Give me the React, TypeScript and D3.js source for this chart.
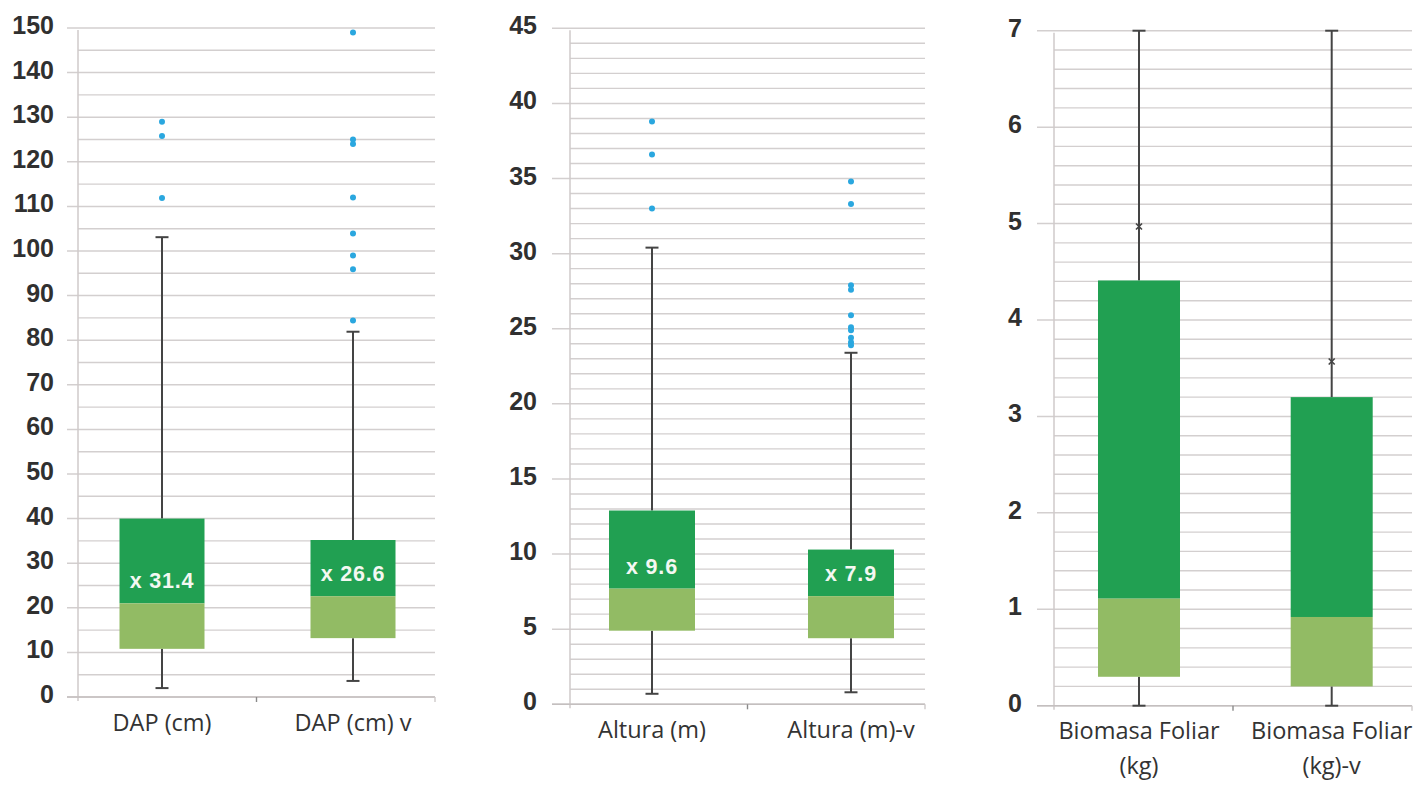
import React from "react";
import * as d3 from "d3";

// ---------- DATA ----------
const dapCategories = ["DAP (cm)", "DAP (cm) v"];
const dapQ1 = [10.8, 13.2];
const dapMedian = [21.0, 22.6];
const dapQ3 = [40.0, 35.2];
const dapWhiskerLow = [2.0, 3.6];
const dapWhiskerHigh = [103.1, 81.9];
const dapMean = [31.4, 26.6];
const dapOutliers = [
  [129.0, 125.8, 111.9],
  [149.0, 125.0, 124.0, 112.0, 103.9, 99.0, 95.9, 84.4],
];
const dapDomain = [0, 150];
const dapMajorStep = 10;
const dapMinorStep = 5;

const alturaCategories = ["Altura (m)", "Altura (m)-v"];
const alturaQ1 = [4.9, 4.4];
const alturaMedian = [7.7, 7.2];
const alturaQ3 = [12.9, 10.3];
const alturaWhiskerLow = [0.7, 0.8];
const alturaWhiskerHigh = [30.4, 23.4];
const alturaMean = [9.6, 7.9];
const alturaOutliers = [
  [38.8, 36.6, 33.0],
  [34.8, 33.3, 27.9, 27.6, 25.9, 25.1, 24.9, 24.4, 24.1, 23.9],
];
const alturaDomain = [0, 45];
const alturaMajorStep = 5;
const alturaMinorStep = 1;

const biomasaCategories = [
  ["Biomasa Foliar", "(kg)"],
  ["Biomasa Foliar", "(kg)-v"],
];
const biomasaQ1 = [0.3, 0.2];
const biomasaMedian = [1.11, 0.92];
const biomasaQ3 = [4.41, 3.2];
const biomasaWhiskerLow = [0, 0];
const biomasaWhiskerHigh = [7, 7];
const biomasaMean = [4.97, 3.57];
const biomasaOutliers: number[][] = [[], []];
const biomasaDomain = [0, 7];
const biomasaMajorStep = 1;
const biomasaMinorStep = 0.2;

// ---------- STYLE / LAYOUT ----------
const DARK_GREEN = "#21a052";
const LIGHT_GREEN = "#92bb64";
const DOT_BLUE = "#2aa7df";
const GRID = "#d3cfcf";
const WHISKER = "#444444";

type PanelProps = {
  categories: string[][];
  q1: number[];
  median: number[];
  q3: number[];
  low: number[];
  high: number[];
  mean: number[];
  outliers: number[][];
  domain: number[];
  majorStep: number;
  minorStep: number;
  meanAsLabel: boolean;
  layout: {
    axisX: number;
    left: number;
    right: number;
    top: number;
    bottom: number;
    centers: number[];
    boxW: number;
    labelX: number;
  };
};

function Panel(p: PanelProps) {
  const L = p.layout;
  const keys = p.categories.map((c) => c.join(" "));
  const y = d3.scaleLinear().domain(p.domain).range([L.bottom, L.top]);
  const x = d3.scalePoint<string>().domain(keys).range(L.centers);
  const sep = d3.scaleBand<string>().domain(keys).range([L.axisX, L.right]);
  const majors = d3.range(p.domain[0], p.domain[1] + 1e-9, p.majorStep);
  const minors = d3
    .range(p.domain[0], p.domain[1] + 1e-9, p.minorStep)
    .filter((v) => Math.abs(v / p.majorStep - Math.round(v / p.majorStep)) > 1e-6);
  const fmt = d3.format("d");
  const capW = 13;

  return (
    <g>
      {minors.map((v, i) => (
        <line key={"mi" + i} x1={L.axisX} x2={L.right} y1={y(v)} y2={y(v)} stroke={GRID} strokeWidth={1.4} />
      ))}
      {majors.map((v, i) => (
        <line key={"ma" + i} x1={L.left} x2={L.right} y1={y(v)} y2={y(v)} stroke={GRID} strokeWidth={1.5} />
      ))}
      <line x1={L.axisX} x2={L.axisX} y1={L.top + 2} y2={L.bottom + 4} stroke="#cfcaca" strokeWidth={1.5} />
      <line x1={L.left} x2={L.right} y1={L.bottom} y2={L.bottom} stroke="#c4bfbf" strokeWidth={1.6} />
      {keys.slice(1).map((k) => (
        <line key={"sep" + k} x1={sep(k)!} x2={sep(k)!} y1={L.bottom} y2={L.bottom + 5} stroke="#8a8a8a" strokeWidth={1.4} />
      ))}
      <line x1={L.right} x2={L.right} y1={L.bottom} y2={L.bottom + 5} stroke="#cfcaca" strokeWidth={1.4} />
      {majors.map((v, i) => (
        <text
          key={"tl" + i}
          x={L.labelX}
          y={y(v) - 3}
          textAnchor="end"
          dominantBaseline="central"
          fontFamily="Liberation Sans, Arial, sans-serif"
          fontWeight="bold"
          fontSize={25}
          fill="#303030"
        >
          {fmt(v)}
        </text>
      ))}
      {keys.map((k, i) => {
        const cx = x(k)!;
        const x0 = cx - L.boxW / 2;
        return (
          <g key={"box" + i}>
            <line x1={cx} x2={cx} y1={y(p.high[i])} y2={y(p.q3[i])} stroke={WHISKER} strokeWidth={2} />
            <line x1={cx} x2={cx} y1={y(p.q1[i])} y2={y(p.low[i])} stroke={WHISKER} strokeWidth={2} />
            <line x1={cx - capW / 2} x2={cx + capW / 2} y1={y(p.high[i])} y2={y(p.high[i])} stroke={WHISKER} strokeWidth={2} />
            <line x1={cx - capW / 2} x2={cx + capW / 2} y1={y(p.low[i])} y2={y(p.low[i])} stroke={WHISKER} strokeWidth={2} />
            <rect x={x0} width={L.boxW} y={y(p.q3[i])} height={y(p.median[i]) - y(p.q3[i])} fill={DARK_GREEN} />
            <rect x={x0} width={L.boxW} y={y(p.median[i])} height={y(p.q1[i]) - y(p.median[i])} fill={LIGHT_GREEN} />
            {p.meanAsLabel ? (
              <text
                x={cx}
                y={y(p.median[i]) - 22}
                textAnchor="middle"
                dominantBaseline="central"
                fontFamily="Liberation Sans, Arial, sans-serif"
                fontWeight="bold"
                fontSize={21.5}
                letterSpacing={0.8}
                fill="#f4f8f2"
              >
                {"x " + p.mean[i].toFixed(1)}
              </text>
            ) : (
              <path
                d={`M${cx - 3},${y(p.mean[i]) - 3}L${cx + 3},${y(p.mean[i]) + 3}M${cx + 3},${y(p.mean[i]) - 3}L${cx - 3},${y(p.mean[i]) + 3}`}
                stroke={WHISKER}
                strokeWidth={1.6}
              />
            )}
            {p.outliers[i].map((v, j) => (
              <circle key={"o" + j} cx={cx} cy={y(v)} r={3} fill={DOT_BLUE} />
            ))}
            {p.categories[i].map((line, j) => (
              <text
                key={"cl" + j}
                x={cx}
                y={L.bottom + 33.5 + j * 34.5}
                textAnchor="middle"
                fontFamily="Open Sans, sans-serif"
                fontSize={23.5}
                fill="#333"
              >
                {line}
              </text>
            ))}
          </g>
        );
      })}
    </g>
  );
}

export default function App() {
  return (
    <svg
      width={1427}
      height={785}
      style={{ position: "absolute", left: 0, top: 0, background: "#fff" }}
    >
      <rect width={1427} height={785} fill="#fff" />
      <Panel
        categories={dapCategories.map((c) => [c])}
        q1={dapQ1}
        median={dapMedian}
        q3={dapQ3}
        low={dapWhiskerLow}
        high={dapWhiskerHigh}
        mean={dapMean}
        outliers={dapOutliers}
        domain={dapDomain}
        majorStep={dapMajorStep}
        minorStep={dapMinorStep}
        meanAsLabel={true}
        layout={{ axisX: 78, left: 67, right: 435, top: 28, bottom: 697, centers: [162, 353], boxW: 85, labelX: 54 }}
      />
      <Panel
        categories={alturaCategories.map((c) => [c])}
        q1={alturaQ1}
        median={alturaMedian}
        q3={alturaQ3}
        low={alturaWhiskerLow}
        high={alturaWhiskerHigh}
        mean={alturaMean}
        outliers={alturaOutliers}
        domain={alturaDomain}
        majorStep={alturaMajorStep}
        minorStep={alturaMinorStep}
        meanAsLabel={true}
        layout={{ axisX: 570, left: 552, right: 925, top: 28.3, bottom: 704.3, centers: [652, 851], boxW: 86, labelX: 537 }}
      />
      <Panel
        categories={biomasaCategories}
        q1={biomasaQ1}
        median={biomasaMedian}
        q3={biomasaQ3}
        low={biomasaWhiskerLow}
        high={biomasaWhiskerHigh}
        mean={biomasaMean}
        outliers={biomasaOutliers}
        domain={biomasaDomain}
        majorStep={biomasaMajorStep}
        minorStep={biomasaMinorStep}
        meanAsLabel={false}
        layout={{ axisX: 1054, left: 1037, right: 1412, top: 30.7, bottom: 705.7, centers: [1139, 1331.7], boxW: 82, labelX: 1022 }}
      />
    </svg>
  );
}
